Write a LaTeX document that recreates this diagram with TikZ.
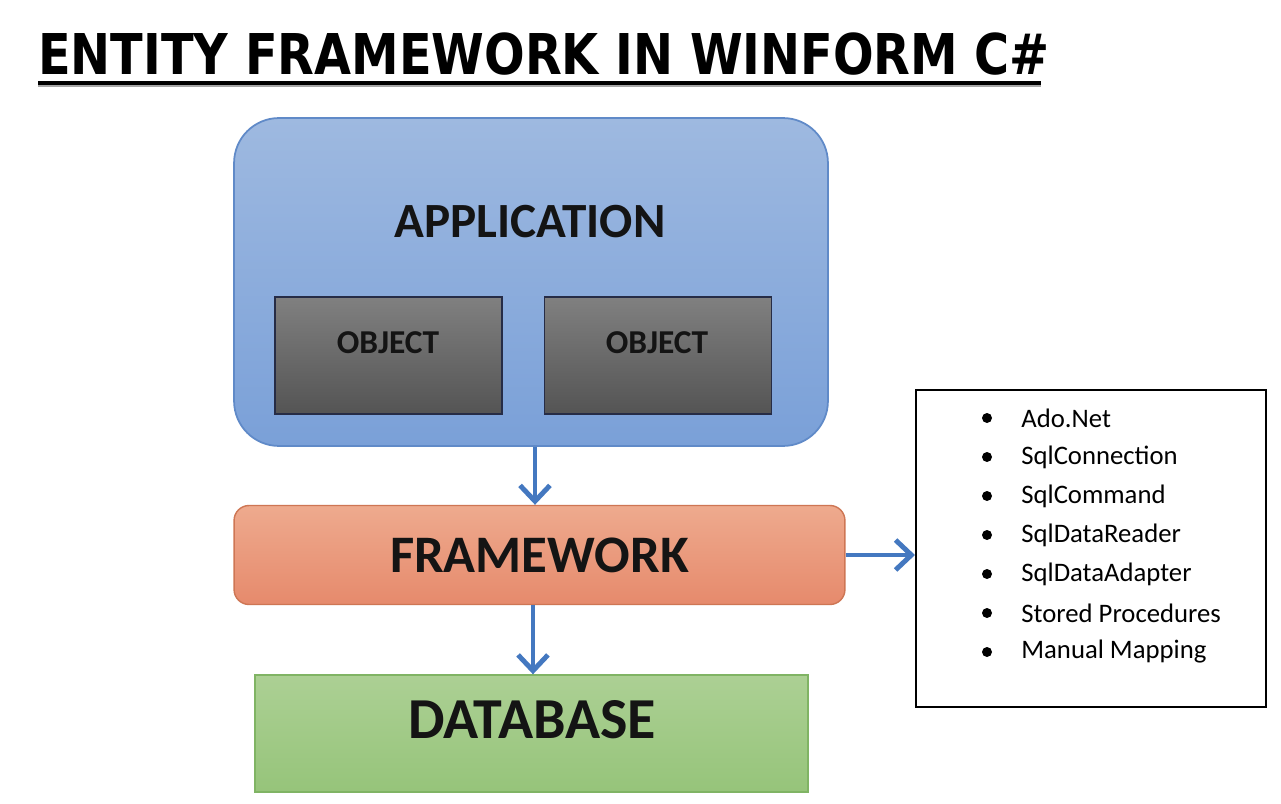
\documentclass[tikz,border=0pt]{standalone}
\usepackage{fontspec}
\setmainfont{Carlito}
\newfontfamily\titlefont[FakeStretch=0.85]{DejaVu Sans}
\usetikzlibrary{arrows.meta,calc}
\definecolor{apptop}{RGB}{158,185,224}
\definecolor{appbot}{RGB}{122,160,216}
\definecolor{appline}{RGB}{96,138,200}
\definecolor{objtop}{RGB}{128,128,128}
\definecolor{objbot}{RGB}{84,84,84}
\definecolor{objline}{RGB}{38,44,70}
\definecolor{fwtop}{RGB}{238,170,142}
\definecolor{fwbot}{RGB}{230,138,108}
\definecolor{fwline}{RGB}{206,118,84}
\definecolor{dbtop}{RGB}{172,208,148}
\definecolor{dbbot}{RGB}{150,196,122}
\definecolor{dbline}{RGB}{128,180,100}
\definecolor{flowblue}{RGB}{68,120,192}
\tikzset{
	appbox/.style={draw=appline,line width=1pt,rounded corners=0.9cm,top color=apptop,bottom color=appbot,minimum width=11.88cm,minimum height=6.56cm},
	objbox/.style={draw=objline,line width=1pt,top color=objtop,bottom color=objbot,minimum width=4.54cm,minimum height=2.34cm},
	fwbox/.style={draw=fwline,line width=0.8pt,rounded corners=0.3cm,top color=fwtop,bottom color=fwbot,minimum width=12.22cm,minimum height=1.98cm},
	dbbox/.style={draw=dbline,line width=0.8pt,top color=dbtop,bottom color=dbbot,minimum width=11.06cm,minimum height=2.34cm},
	boxtext/.style={font=\bfseries,text=black!92},
	flow/.style={draw=flowblue,line width=2.8pt,-{Straight Barb[length=9pt,width=17pt]}},
}
\begin{document}
\begin{tikzpicture}[x=0.02cm,y=-0.02cm]
	\useasboundingbox[fill=white] (0,0) rectangle (1281,804);
	\node[anchor=base west,inner sep=0pt,font=\titlefont\bfseries\fontsize{32}{32}\selectfont] (title) at (38,75) {ENTITY FRAMEWORK IN WINFORM C\#};
	\draw[line width=2pt,black] (38,83) -- (1041,83);
	\draw[line width=1pt,black!35] (38,86) -- (1041,86);

	\node[appbox] (app) at (531,282) {};
	\node[boxtext,font=\bfseries\fontsize{28}{28}\selectfont] (apptxt) at (530,222) {APPLICATION};
	\node[objbox] (obj1) at (388.5,355.5) {};
	\node[objbox] (obj2) at (658,355.5) {};
	\node[boxtext,font=\bfseries\fontsize{19}{19}\selectfont] (obj1txt) at (388,343) {OBJECT};
	\node[boxtext,font=\bfseries\fontsize{19}{19}\selectfont] (obj2txt) at (657,343) {OBJECT};

	\node[fwbox,boxtext,font=\bfseries\fontsize{30}{30}\selectfont] (fw) at (539.5,555) {FRAMEWORK};
	\node[dbbox] (db) at (531.5,733.5) {};
	\node[boxtext,font=\bfseries\fontsize{33}{33}\selectfont] (dbtxt) at (532,720) {DATABASE};

	\node[draw=black,line width=1.2pt,fill=white,minimum width=7cm,minimum height=6.34cm] (list) at (1091,548.5) {};
	\foreach \entry [count=\i] in {Ado.Net,SqlConnection,SqlCommand,SqlDataReader,SqlDataAdapter,Stored Procedures,Manual Mapping}{
		\fill[black] (987,{418+39*(\i-1)}) circle[radius=5];
		\node[anchor=west,inner sep=0pt,font=\fontsize{15.2}{15.2}\selectfont] (item\i) at (1021,{418+39*(\i-1)}) {\entry};
	}

	\draw[flow] ([xshift=0.08cm]app.south) -- ([xshift=0.08cm]app.south |- fw.north);
	\draw[flow] ([xshift=-0.13cm]fw.south) -- ([xshift=-0.13cm]fw.south |- db.north);
	\draw[flow] (fw.east) -- (fw.east -| list.west);
\end{tikzpicture}
\end{document}
